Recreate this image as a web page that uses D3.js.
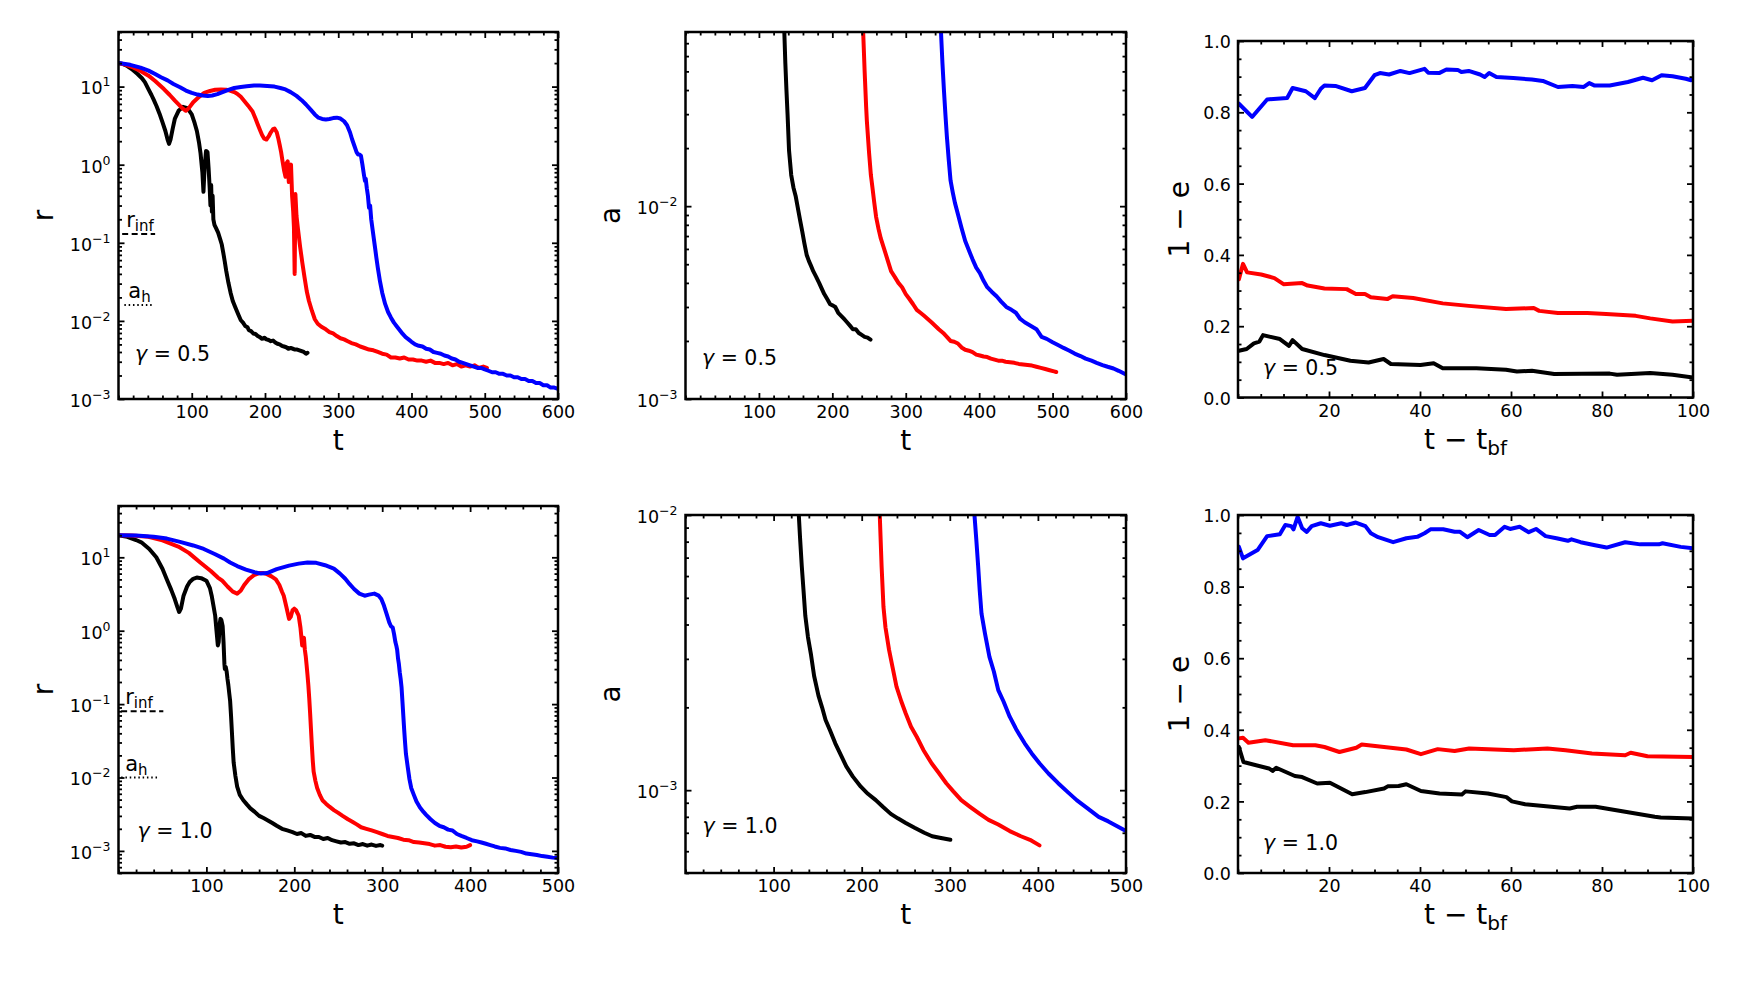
<!DOCTYPE html>
<html>
<head>
<meta charset="utf-8">
<script src="https://cdn.jsdelivr.net/npm/d3@7"></script>
<style>
  body { margin: 0; background: #fff; }
  svg text { font-family: "DejaVu Sans", sans-serif; fill: #000; }
</style>
</head>
<body>
<svg id="fig" width="1743" height="989"></svg>
<script>
// ---------------- data (t, value) ----------------
// separation r, gamma = 0.5
const rBlack05 = [[0,20],[5,19.6],[11,18.6],[18,16.8],[26,14.5],[32,12.8],[36,11.4],[41,9.2],[45,7.8],[48,6.8],[52,5.6],[56,4.5],[60,3.5],[64,2.7],[67,2.1],[69,1.85],[71,2.1],[74,2.9],[77,3.9],[82,4.9],[88,5.5],[94,5.3],[100,4.4],[104,3.4],[107,2.7],[110,1.9],[112,1.4],[114.5,0.8],[116,0.45],[117.5,0.9],[119.5,1.5],[121.5,1.45],[123,0.9],[124.5,0.5],[125.5,0.3],[126.5,0.55],[127.5,0.25],[128.5,0.4],[129.5,0.2],[131,0.17],[133,0.155],[136,0.135],[139,0.11],[141,0.095],[143,0.075],[145,0.058],[147,0.044],[150,0.031],[153,0.023],[156,0.018],[160,0.0145],[164,0.0118],[167,0.0102],[170,0.0095],[173,0.0086],[176,0.0083],[178,0.0076],[181,0.0074],[184,0.0069],[187,0.0068],[190,0.0064],[193,0.0062],[196,0.0059],[199,0.0061],[202,0.0058],[205,0.0057],[208,0.0055],[211,0.0056],[214,0.0053],[217,0.0051],[220,0.0050],[223,0.0048],[226,0.0047],[229,0.0046],[232,0.0044],[235,0.0045],[238,0.0044],[241,0.0043],[244,0.0043],[247,0.0042],[250,0.0041],[253,0.0040],[256,0.0038],[258,0.0039]];
const rRed05 = [[0,20],[10,19],[20,17.6],[30,15.8],[41,13.8],[50,11.8],[62,9.3],[70,7.8],[77,6.6],[83,5.8],[87,5.3],[92,4.9],[96,5.3],[102,6.3],[110,7.4],[117,8.3],[125,8.8],[132,9.1],[140,9.2],[147,9.1],[152,8.9],[158,8.5],[162,8.1],[167,7.4],[172,6.5],[177,5.7],[183,4.8],[187,3.9],[190,3.3],[193,2.8],[196,2.4],[199,2.15],[202,2.1],[205,2.3],[208,2.6],[211,2.85],[213,2.9],[216,2.6],[218,2.2],[220,1.8],[222,1.45],[224,1.1],[226,0.85],[228,0.7],[229.5,1.05],[231,1.1],[232.5,0.6],[234,0.95],[235.5,1.0],[237,0.4],[238.5,0.25],[239.5,0.16],[240.5,0.04],[241.5,0.42],[243,0.22],[245,0.15],[248,0.088],[251,0.055],[254,0.036],[257,0.024],[260,0.018],[264,0.0135],[268,0.0105],[272,0.0092],[277,0.0084],[283,0.0078],[288,0.0072],[293,0.0069],[298,0.0064],[303,0.006],[308,0.0058],[313,0.0055],[318,0.0052],[324,0.0050],[330,0.0047],[336,0.0045],[342,0.0043],[348,0.0042],[354,0.0040],[360,0.0038],[366,0.0037],[372,0.0034],[378,0.0034],[384,0.0033],[390,0.0034],[396,0.0032],[402,0.0032],[408,0.0031],[414,0.0031],[420,0.0030],[426,0.0031],[432,0.0029],[438,0.0029],[444,0.0028],[450,0.0029],[456,0.0027],[462,0.0028],[468,0.0026],[474,0.0027],[480,0.0026],[486,0.0027],[492,0.0025],[498,0.0026],[503,0.0025]];
const rBlue05 = [[0,20],[16,19],[30,17.5],[41,16],[50,14.5],[58,13.2],[67,12],[75,10.8],[84,9.8],[92,8.9],[100,8.3],[108,7.9],[115,7.7],[122,7.6],[128,7.7],[135,8.0],[142,8.5],[150,9.1],[158,9.6],[167,9.9],[175,10.1],[185,10.3],[193,10.3],[203,10.2],[213,10.0],[221,9.6],[228,9.2],[235,8.5],[243,7.6],[250,6.7],[256,5.9],[262,5.1],[268,4.4],[273,4.0],[278,3.85],[283,3.8],[288,3.85],[293,3.95],[298,4.0],[303,3.9],[308,3.6],[312,3.2],[316,2.6],[319,2.1],[322,1.75],[325,1.45],[327,1.35],[329,1.35],[331,1.3],[333,1.0],[335,0.75],[336.5,0.62],[337.5,0.66],[339,0.5],[340.5,0.4],[342,0.28],[343.5,0.3],[345,0.2],[347,0.145],[350,0.09],[352,0.065],[354,0.048],[357,0.032],[360,0.023],[364,0.0165],[368,0.013],[372,0.011],[376,0.0095],[380,0.0085],[384,0.0076],[388,0.0068],[392,0.0062],[396,0.0058],[400,0.0054],[405,0.0050],[410,0.0048],[415,0.0047],[420,0.0044],[425,0.0043],[430,0.0040],[435,0.0039],[440,0.0038],[445,0.0036],[450,0.0035],[455,0.0033],[460,0.0032],[465,0.0030],[470,0.0029],[475,0.0028],[480,0.0027],[485,0.0026],[490,0.0025],[495,0.0025],[500,0.0024],[505,0.0023],[510,0.0022],[515,0.0022],[520,0.0021],[525,0.0021],[530,0.0020],[535,0.0020],[540,0.0019],[545,0.0019],[550,0.0018],[555,0.0018],[560,0.0017],[565,0.0017],[570,0.0016],[575,0.0016],[580,0.0015],[585,0.0015],[590,0.0014],[595,0.0014],[600,0.00135]];

// separation r, gamma = 1.0
const rBlack10 = [[0,20],[10,19],[20,17.2],[26,16],[35,13],[43,10],[50,7],[55,5],[60,3.6],[64,2.7],[67,2.1],[69,1.8],[71,2.0],[74,3.0],[78,4.0],[81,4.6],[85,5.1],[89,5.3],[94,5.2],[100,4.8],[104,3.8],[106,3.0],[108,2.2],[110,1.6],[111.5,1.0],[113,0.63],[114,0.7],[115,1.2],[116,1.45],[117,1.4],[118.5,1.15],[119.5,0.7],[120.5,0.35],[121,0.3],[122,0.32],[123,0.28],[124,0.22],[125,0.18],[126,0.14],[127,0.11],[128,0.07],[129,0.042],[130,0.025],[131,0.016],[133,0.0105],[135,0.0075],[138,0.0058],[142,0.0049],[146,0.0043],[150,0.0038],[155,0.0034],[160,0.0030],[165,0.0028],[170,0.0026],[175,0.0024],[180,0.0022],[186,0.0020],[192,0.0019],[198,0.0018],[203,0.0017],[208,0.00175],[213,0.0016],[218,0.00165],[223,0.00155],[228,0.00155],[233,0.00145],[238,0.0015],[243,0.0014],[248,0.00135],[253,0.0013],[258,0.00132],[263,0.00125],[268,0.00127],[273,0.0012],[278,0.00124],[283,0.00118],[288,0.00122],[293,0.00117],[298,0.0012],[300,0.00118]];
const rRed10 = [[0,20],[15,19.8],[34,19],[50,17],[68,14],[80,11.5],[93,8.5],[105,6.5],[113,5.3],[118,4.8],[124,4.0],[130,3.4],[135,3.2],[139,3.5],[143,4.2],[148,5.0],[154,5.7],[160,6.1],[165,6.1],[169,5.9],[174,5.5],[179,5.0],[183,4.2],[186,3.4],[188,3.0],[191,2.1],[194,1.45],[196,1.55],[198,1.9],[200,2.0],[202,1.9],[204,1.7],[205,1.6],[207,1.1],[209,0.63],[210,0.75],[211,0.8],[212,0.55],[213,0.45],[214,0.34],[215,0.25],[216,0.18],[217,0.12],[218,0.075],[219,0.045],[220,0.027],[221,0.017],[222,0.012],[224,0.009],[226,0.0072],[229,0.0058],[232,0.0049],[236,0.0044],[240,0.0040],[245,0.0036],[250,0.0033],[255,0.0030],[261,0.0027],[266,0.0025],[271,0.0023],[276,0.0021],[282,0.0020],[288,0.0019],[294,0.0018],[300,0.0017],[306,0.0016],[312,0.00155],[318,0.0015],[324,0.00142],[330,0.0014],[336,0.00132],[342,0.0013],[348,0.00127],[354,0.00124],[360,0.00118],[366,0.0012],[372,0.00114],[378,0.00112],[384,0.00115],[390,0.00111],[396,0.00114],[400,0.0012]];
const rBlue10 = [[0,20],[20,19.8],[40,19],[55,18],[70,16.2],[85,14.5],[97,13],[110,11],[120,9.6],[127,8.5],[135,7.6],[145,6.8],[156,6.2],[162,6.0],[169,6.1],[180,6.9],[194,7.7],[205,8.2],[215,8.5],[225,8.4],[235,7.8],[245,7.0],[252,6.0],[258,5.1],[263,4.3],[268,3.7],[274,3.2],[280,3.0],[285,3.1],[291,3.2],[296,3.0],[299,2.7],[302,2.2],[305,1.7],[308,1.3],[310,1.15],[312,1.1],[313.5,0.9],[315,0.7],[316,0.63],[317,0.55],[318,0.42],[319,0.35],[320,0.27],[321,0.22],[322,0.17],[323,0.11],[324,0.07],[325,0.045],[326,0.03],[327,0.021],[329,0.014],[331,0.0095],[333,0.0072],[336,0.0058],[339,0.0047],[343,0.0039],[347,0.0034],[350,0.0031],[355,0.0027],[360,0.0024],[365,0.0022],[370,0.0021],[375,0.00195],[380,0.0019],[385,0.0017],[390,0.0016],[396,0.0015],[402,0.0014],[408,0.00135],[413,0.0013],[418,0.00125],[423,0.0012],[428,0.00115],[434,0.0011],[440,0.00108],[446,0.00103],[452,0.001],[458,0.00097],[464,0.00092],[470,0.0009],[476,0.00088],[482,0.00085],[488,0.00083],[494,0.00081],[500,0.0008]];

// semi-major axis a
const aBlack05 = [[133.5,0.1],[134.6,0.08],[136,0.055],[137.5,0.04],[139,0.03],[141,0.0195],[144,0.0145],[147,0.0125],[150,0.0113],[153,0.0098],[156,0.0085],[159,0.0074],[162,0.0064],[165,0.0056],[168,0.0052],[171,0.0049],[174,0.0046],[178,0.0043],[182,0.0040],[186,0.0037],[189,0.0035],[193,0.0033],[197,0.0031],[201,0.00305],[204,0.0030],[208,0.0028],[212,0.0027],[216,0.0026],[220,0.0025],[224,0.0024],[228,0.0023],[232,0.0023],[236,0.0022],[240,0.00215],[244,0.0021],[248,0.00208],[252,0.00203]];
const aRed05 = [[241,0.1],[242,0.08],[244,0.05],[246,0.033],[247,0.0278],[250,0.019],[252.5,0.0145],[254.5,0.0126],[257,0.0105],[259.6,0.0088],[263,0.0076],[266,0.0068],[270,0.0061],[275,0.0053],[280,0.0046],[285,0.0043],[290,0.0040],[295,0.0038],[300,0.0035],[305,0.0033],[310,0.0031],[315,0.0029],[320,0.0028],[325,0.0027],[330,0.0026],[335,0.0025],[340,0.0024],[345,0.0023],[351,0.0022],[356,0.0021],[361,0.0020],[366,0.00198],[371,0.00194],[376,0.00185],[381,0.0018],[386,0.00178],[391,0.00175],[396,0.0017],[401,0.00168],[406,0.00166],[411,0.00165],[416,0.00162],[421,0.0016],[426,0.00158],[431,0.00158],[436,0.00156],[442,0.00155],[448,0.00154],[454,0.00152],[460,0.00151],[466,0.0015],[472,0.00149],[478,0.00147],[484,0.00145],[490,0.00143],[496,0.00141],[502,0.00139],[505,0.00138]];
const aBlue05 = [[347,0.1],[348,0.08],[350,0.055],[352,0.04],[354,0.03],[356,0.023],[358.5,0.0175],[361,0.0136],[364,0.0118],[367,0.0104],[371,0.0091],[376,0.0077],[381,0.0066],[386,0.0059],[391,0.0053],[396,0.0048],[401,0.0045],[406,0.0041],[411,0.0038],[417,0.0036],[424,0.0034],[430,0.0032],[437,0.0030],[444,0.0029],[450,0.0028],[456,0.0026],[462,0.0025],[470,0.0024],[478,0.0023],[485,0.0021],[492,0.00205],[500,0.00197],[508,0.0019],[515,0.00184],[523,0.00178],[530,0.00172],[538,0.00167],[545,0.00162],[553,0.00158],[560,0.00154],[568,0.0015],[575,0.00147],[583,0.00144],[590,0.0014],[600,0.00134]];
const aBlack10 = [[128,0.011],[128.6,0.01],[130,0.0083],[132,0.0065],[134,0.0053],[136,0.0043],[139,0.0036],[142.5,0.0031],[146,0.0026],[151,0.0022],[155,0.002],[159,0.0018],[164,0.00165],[170,0.00148],[176,0.00135],[182.5,0.00122],[190,0.00112],[199,0.00103],[207,0.00097],[216,0.00092],[224,0.00087],[233,0.00082],[241,0.00079],[250,0.00076],[260,0.00073],[271,0.0007],[280,0.00068],[290,0.00067],[300.6,0.00066]];
const aRed10 = [[220,0.011],[220.5,0.01],[222.6,0.0065],[224.7,0.00464],[227,0.0039],[231,0.00324],[235,0.0028],[239.5,0.00238],[245,0.0021],[250,0.0019],[256,0.0017],[262.6,0.00156],[270,0.0014],[279.5,0.00125],[288,0.00115],[296,0.00106],[304,0.00099],[313,0.00092],[323,0.00087],[334,0.00082],[344,0.00078],[355,0.00075],[368,0.00071],[380.7,0.00068],[391,0.00066],[401.8,0.00063]];
const aBlue10 = [[327.5,0.011],[328,0.01],[330,0.0082],[332.2,0.0065],[334,0.0053],[336,0.00438],[340,0.0037],[345,0.00305],[350,0.0027],[355,0.00231],[361,0.0021],[368,0.00185],[376,0.00165],[385,0.00148],[393,0.00136],[402,0.00125],[412,0.00115],[423,0.00106],[433,0.00099],[444,0.00092],[456,0.00086],[469,0.0008],[480,0.00077],[490,0.00074],[500,0.00071]];

// 1 - e against t - t_bf
const eBlue05 = [[0.2,0.824],[3.1,0.787],[6.4,0.836],[10.8,0.84],[12,0.868],[14.9,0.859],[16.9,0.84],[18.2,0.866],[19,0.875],[21.4,0.874],[25,0.859],[27.9,0.868],[30,0.904],[31.2,0.91],[33.2,0.906],[35.7,0.916],[37.7,0.91],[41,0.922],[41.8,0.911],[44.2,0.91],[45.8,0.92],[48.3,0.919],[49.1,0.913],[50.7,0.916],[53.2,0.906],[54.2,0.899],[55.2,0.91],[56.8,0.899],[60.5,0.896],[64.6,0.892],[67,0.888],[70.3,0.871],[73.5,0.874],[76,0.871],[77.2,0.882],[78.4,0.875],[81.7,0.875],[85.7,0.885],[89,0.897],[91,0.89],[93.1,0.904],[95.5,0.901],[98.4,0.894],[99.6,0.89],[100,0.894]];
const eRed05 = [[0.2,0.332],[1.1,0.375],[2,0.351],[5.1,0.345],[8,0.335],[10,0.318],[14.1,0.321],[15.3,0.314],[19,0.306],[23.9,0.304],[25.9,0.29],[27.9,0.29],[29.2,0.281],[32.8,0.276],[34,0.284],[38.5,0.279],[45,0.264],[50.7,0.257],[58.9,0.248],[65,0.251],[66.2,0.243],[70.3,0.237],[76.8,0.237],[80.9,0.234],[87.4,0.229],[90.6,0.222],[95.5,0.213],[100,0.215]];
const eBlack05 = [[0.2,0.131],[1.9,0.136],[3.5,0.152],[4.7,0.157],[5.5,0.175],[9.2,0.164],[11.2,0.145],[12,0.161],[14.1,0.136],[19,0.119],[24.7,0.103],[28.7,0.098],[32,0.108],[33.6,0.094],[40.1,0.091],[43,0.096],[45,0.082],[52.4,0.082],[58.9,0.078],[61.3,0.073],[64.6,0.075],[69.5,0.066],[81.7,0.067],[83.3,0.064],[90.6,0.069],[95.5,0.064],[100,0.056]];
const eBlue10 = [[0.2,0.911],[1.1,0.879],[4.3,0.902],[6.4,0.941],[9.2,0.946],[10.4,0.972],[11.7,0.969],[12.2,0.96],[13.1,0.995],[14.1,0.963],[15.1,0.953],[16.2,0.969],[18.2,0.977],[20.2,0.97],[22.7,0.977],[23.9,0.972],[25.9,0.979],[28,0.969],[29.2,0.949],[30.8,0.938],[34.1,0.924],[37,0.935],[39.4,0.939],[41,0.949],[42.3,0.96],[45.1,0.96],[47.6,0.953],[48.8,0.953],[50.4,0.938],[52.9,0.958],[55.3,0.944],[56.5,0.944],[58.6,0.967],[59.8,0.961],[61.9,0.967],[63.9,0.952],[65.5,0.961],[67.6,0.941],[70,0.935],[72.5,0.928],[73.3,0.932],[75.3,0.924],[78.2,0.916],[81,0.909],[85.1,0.924],[88.4,0.918],[92.5,0.918],[93.3,0.921],[97.3,0.911],[100,0.907]];
const eRed10 = [[0.2,0.376],[1.1,0.378],[2.3,0.364],[6,0.371],[12.1,0.357],[17,0.357],[19,0.352],[22.3,0.338],[26,0.35],[27.2,0.359],[37,0.345],[40.2,0.332],[43.9,0.346],[47.6,0.341],[50.8,0.348],[60.6,0.343],[68,0.348],[72,0.343],[77.8,0.334],[85.1,0.329],[86.3,0.336],[90,0.326],[100,0.324]];
const eBlack10 = [[0.2,0.352],[1.2,0.31],[6.8,0.292],[7.6,0.285],[8.4,0.294],[12.5,0.271],[14.1,0.268],[17.4,0.25],[20.2,0.252],[25.1,0.22],[28,0.226],[32.1,0.236],[32.9,0.242],[35.3,0.243],[37,0.248],[40.2,0.229],[44.3,0.222],[49.2,0.219],[50,0.228],[54.9,0.222],[59,0.212],[60.2,0.2],[63.1,0.192],[72.9,0.18],[74.5,0.185],[78.6,0.185],[85.1,0.171],[91.6,0.157],[92.9,0.155],[100,0.152]];

// reference levels (r_inf, a_h) for gamma = 0.5 and 1.0
const rInf = [0.13, 0.08];
const aH = [0.016, 0.010];

// ticks
const tTicks600 = [100, 200, 300, 400, 500, 600];
const tTicks500 = [100, 200, 300, 400, 500];
const tbfTicks = [20, 40, 60, 80, 100];
const logTicksR = [1e-3, 1e-2, 1e-1, 1e0, 1e1];
const logTicksA = [1e-3, 1e-2];
const eTicks = [0, 0.2, 0.4, 0.6, 0.8, 1.0];
const gammas = ["0.5", "1.0"];

// ---------------- drawing ----------------
const FONT = '"DejaVu Sans", sans-serif';
const svg = d3.select("#fig");

function logMinors(dom) {
  const out = [];
  for (let k = -5; k < 3; k++)
    for (let m = 2; m < 10; m++) {
      const v = m * Math.pow(10, k);
      if (v >= dom[0] * 0.999 && v <= dom[1] * 1.001) out.push(v);
    }
  return out;
}
function linMinors(dom, step, majors) {
  const out = [];
  const n = Math.round((dom[1] - dom[0]) / step);
  for (let i = 0; i <= n; i++) {
    const v = +(dom[0] + i * step).toFixed(6);
    if (!majors.some(m => Math.abs(m - v) < 1e-9)) out.push(v);
  }
  return out;
}

function drawPanel(p) {
  const w = p.box[2] - p.box[0], h = p.box[3] - p.box[1];
  const g = svg.append("g").attr("transform", `translate(${p.box[0]},${p.box[1]})`);
  const x = d3.scaleLinear().domain(p.xDomain).range([0, w]);
  const y = (p.log ? d3.scaleLog() : d3.scaleLinear()).domain(p.yDomain).range([h, 0]);

  g.append("clipPath").attr("id", "clip-" + p.id)
    .append("rect").attr("width", w).attr("height", h);
  const plot = g.append("g").attr("clip-path", `url(#clip-${p.id})`);
  const line = d3.line().x(d => x(d[0])).y(d => y(d[1]));

  p.series.forEach(s => {
    plot.append("path")
      .datum(s.values)
      .attr("d", line)
      .attr("fill", "none")
      .attr("stroke", s.color)
      .attr("stroke-width", 4)
      .attr("stroke-linejoin", "round")
      .attr("stroke-linecap", "round");
  });

  // r_inf / a_h markers
  if (p.refs) {
    p.refs.forEach(r => {
      plot.append("line")
        .attr("x1", x(r.t[0])).attr("x2", x(r.t[1]))
        .attr("y1", y(r.v)).attr("y2", y(r.v))
        .attr("stroke", "#000").attr("stroke-width", 2)
        .attr("stroke-dasharray", r.dash);
      const t = g.append("text")
        .attr("x", x(r.t[0]) + 4)
        .attr("y", y(r.v) - 7)
        .attr("font-size", 21);
      t.append("tspan").text(r.main);
      t.append("tspan").attr("font-size", 15).attr("dy", 4).text(r.sub);
    });
  }

  // ticks
  const xMinor = linMinors(p.xDomain, p.xMinorStep, p.xTicks);
  const yMinor = p.log ? logMinors(p.yDomain) : linMinors(p.yDomain, 0.05, p.yTicks);
  const MAJ = 6, MIN = 3.5;

  g.append("g").attr("transform", `translate(0,${h})`)
    .call(d3.axisBottom(x).tickValues(p.xTicks).tickSize(-MAJ).tickSizeOuter(0).tickPadding(7).tickFormat(d3.format("d")));
  g.append("g").attr("transform", `translate(0,${h})`)
    .call(d3.axisBottom(x).tickValues(xMinor).tickSize(-MIN).tickSizeOuter(0).tickFormat(""));
  g.append("g").call(d3.axisTop(x).tickValues(p.xTicks).tickSize(-MAJ).tickSizeOuter(0).tickFormat(""));
  g.append("g").call(d3.axisTop(x).tickValues(xMinor).tickSize(-MIN).tickSizeOuter(0).tickFormat(""));

  const yl = g.append("g")
    .call(d3.axisLeft(y).tickValues(p.yTicks).tickSize(-MAJ).tickSizeOuter(0).tickPadding(p.log ? 8 : 7)
      .tickFormat(p.log ? (d => d) : d3.format(".1f")));
  g.append("g").call(d3.axisLeft(y).tickValues(yMinor).tickSize(-MIN).tickSizeOuter(0).tickFormat(""));
  g.append("g").attr("transform", `translate(${w},0)`)
    .call(d3.axisRight(y).tickValues(p.yTicks).tickSize(-MAJ).tickSizeOuter(0).tickFormat(""));
  g.append("g").attr("transform", `translate(${w},0)`)
    .call(d3.axisRight(y).tickValues(yMinor).tickSize(-MIN).tickSizeOuter(0).tickFormat(""));

  g.selectAll(".domain").remove();
  g.selectAll(".tick line").attr("stroke", "#000").attr("stroke-width", 1.8);
  g.selectAll(".tick text").attr("font-size", 17.5).attr("font-family", FONT).attr("fill", "#000");

  if (p.log) {
    yl.selectAll(".tick text").each(function (d) {
      const e = Math.round(Math.log10(d));
      const t = d3.select(this).text(null).attr("dy", "0.42em");
      t.append("tspan").text("10");
      t.append("tspan").attr("dy", -8).attr("font-size", 12.5)
        .text(e < 0 ? "\u2212" + (-e) : String(e));
    });
  } else {
    yl.selectAll(".tick text").attr("dy", "0.38em");
  }

  // frame
  g.append("rect").attr("width", w).attr("height", h)
    .attr("fill", "none").attr("stroke", "#000").attr("stroke-width", 2.5);

  // axis labels
  const xl = g.append("text").attr("x", w / 2).attr("y", h + 51)
    .attr("text-anchor", "middle").attr("font-size", 28);
  xl.append("tspan").text(p.xLabel[0]);
  if (p.xLabel[1]) xl.append("tspan").attr("font-size", 20).attr("dy", 6).text(p.xLabel[1]);

  g.append("text")
    .attr("transform", `translate(${-p.yLabelGap},${h / 2}) rotate(-90)`)
    .attr("text-anchor", "middle").attr("font-size", 28)
    .text(p.yLabel);

  // gamma annotation
  const gt = g.append("text").attr("x", p.gammaPos[0]).attr("y", h - p.gammaPos[1])
    .attr("font-size", 20.5);
  gt.append("tspan").attr("font-style", "italic").text("\u03b3");
  gt.append("tspan").text(" = " + p.gamma);
}

const panels = [
  { id: "tl", box: [118.5, 32, 558, 399], xDomain: [0, 600], yDomain: [1e-3, 50], log: true,
    xTicks: tTicks600, xMinorStep: 20, yTicks: logTicksR, xLabel: ["t"], yLabel: "r", yLabelGap: 65.5,
    gamma: gammas[0], gammaPos: [16.5, 38],
    refs: [{ v: rInf[0], t: [5, 50], dash: "6,3.5", main: "r", sub: "inf" },
           { v: aH[0], t: [8, 48], dash: "1.5,2.8", main: "a", sub: "h" }],
    series: [{ values: rBlack05, color: "#000" }, { values: rRed05, color: "#ff0000" }, { values: rBlue05, color: "#0000ff" }] },
  { id: "tm", box: [685.5, 32, 1126, 399], xDomain: [0, 600], yDomain: [1e-3, 0.08], log: true,
    xTicks: tTicks600, xMinorStep: 20, yTicks: logTicksA, xLabel: ["t"], yLabel: "a", yLabelGap: 65.5,
    gamma: gammas[0], gammaPos: [16.5, 34],
    series: [{ values: aBlack05, color: "#000" }, { values: aRed05, color: "#ff0000" }, { values: aBlue05, color: "#0000ff" }] },
  { id: "tr", box: [1238, 41, 1693, 397.5], xDomain: [0, 100], yDomain: [0, 1], log: false,
    xTicks: tbfTicks, xMinorStep: 5, yTicks: eTicks, xLabel: ["t \u2212 t", "bf"], yLabel: "1 \u2212 e", yLabelGap: 49,
    gamma: gammas[0], gammaPos: [25, 23],
    series: [{ values: eBlack05, color: "#000" }, { values: eRed05, color: "#ff0000" }, { values: eBlue05, color: "#0000ff" }] },
  { id: "bl", box: [118.5, 506, 558, 873], xDomain: [0, 500], yDomain: [5e-4, 50], log: true,
    xTicks: tTicks500, xMinorStep: 20, yTicks: logTicksR, xLabel: ["t"], yLabel: "r", yLabelGap: 65.5,
    gamma: gammas[1], gammaPos: [19, 35.5],
    refs: [{ v: rInf[1], t: [3, 51], dash: "6,3.5", main: "r", sub: "inf" },
           { v: aH[1], t: [3, 47], dash: "1.5,2.8", main: "a", sub: "h" }],
    series: [{ values: rBlack10, color: "#000" }, { values: rRed10, color: "#ff0000" }, { values: rBlue10, color: "#0000ff" }] },
  { id: "bm", box: [685.5, 515, 1126, 873], xDomain: [0, 500], yDomain: [5e-4, 1e-2], log: true,
    xTicks: tTicks500, xMinorStep: 20, yTicks: logTicksA, xLabel: ["t"], yLabel: "a", yLabelGap: 65.5,
    gamma: gammas[1], gammaPos: [17, 40],
    series: [{ values: aBlack10, color: "#000" }, { values: aRed10, color: "#ff0000" }, { values: aBlue10, color: "#0000ff" }] },
  { id: "br", box: [1238, 515, 1693, 873], xDomain: [0, 100], yDomain: [0, 1], log: false,
    xTicks: tbfTicks, xMinorStep: 5, yTicks: eTicks, xLabel: ["t \u2212 t", "bf"], yLabel: "1 \u2212 e", yLabelGap: 49,
    gamma: gammas[1], gammaPos: [25, 23],
    series: [{ values: eBlack10, color: "#000" }, { values: eRed10, color: "#ff0000" }, { values: eBlue10, color: "#0000ff" }] }
];

panels.forEach(drawPanel);
</script>
</body>
</html>
